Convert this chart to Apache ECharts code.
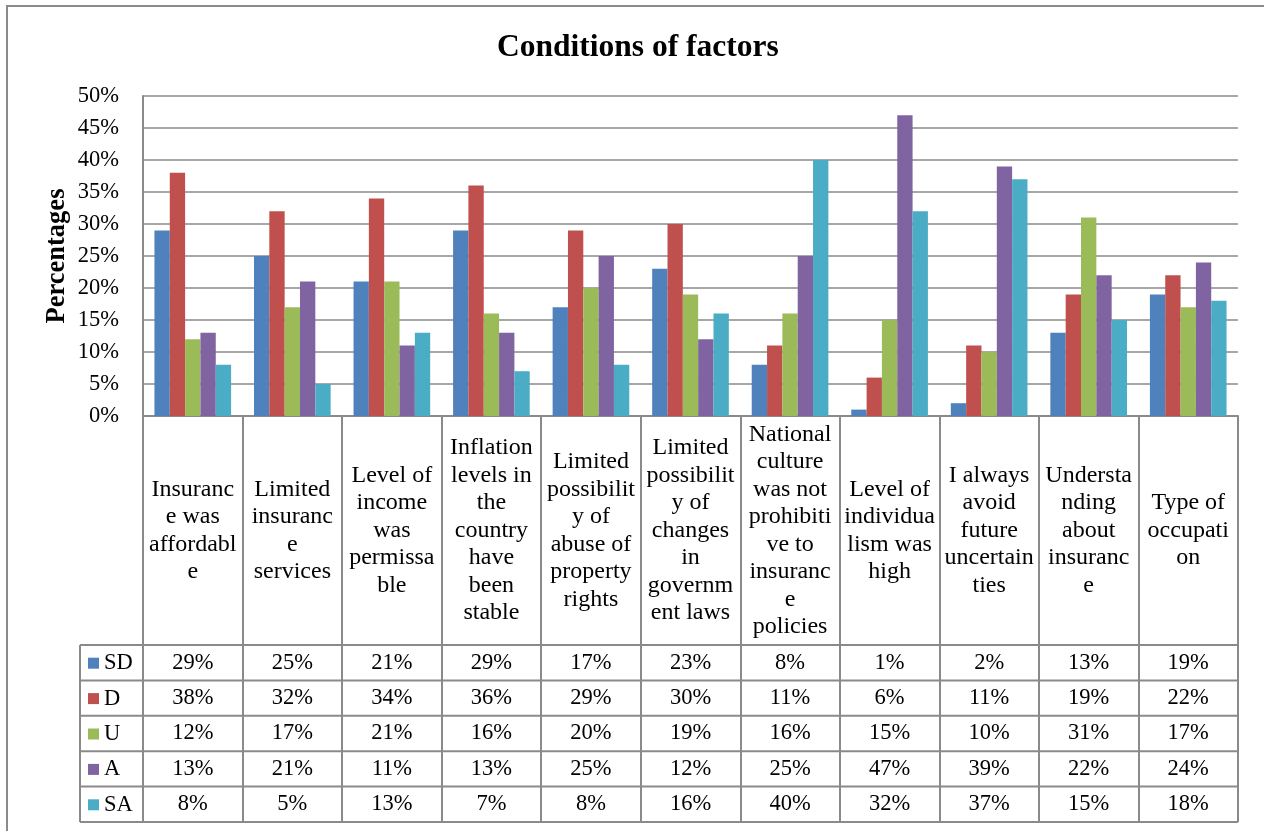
<!DOCTYPE html>
<html>
<head>
<meta charset="utf-8">
<title>Conditions of factors</title>
<script src="https://cdn.jsdelivr.net/npm/echarts@6/dist/echarts.min.js"></script>
<style>
  html, body { margin: 0; padding: 0; background: #fff; }
  #chart { width: 1264px; height: 831px; }
</style>
</head>
<body>
<div id="chart"></div>
<script>
// Factor statements (categories)
const categories = [
  'Insurance was affordable',
  'Limited insurance services',
  'Level of income was permissable',
  'Inflation levels in the country have been stable',
  'Limited possibility of abuse of property rights',
  'Limited possibility of changes in government laws',
  'National culture was not prohibitive to insurance policies',
  'Level of individualism was high',
  'I always avoid future uncertainties',
  'Understanding about insurance',
  'Type of occupation'
];

// Wrapped category labels as they appear under the bars
const categoryLabels = [
  'Insuranc\ne was\naffordabl\ne',
  'Limited\ninsuranc\ne\nservices',
  'Level of\nincome\nwas\npermissa\nble',
  'Inflation\nlevels in\nthe\ncountry\nhave\nbeen\nstable',
  'Limited\npossibilit\ny of\nabuse of\nproperty\nrights',
  'Limited\npossibilit\ny of\nchanges\nin\ngovernm\nent laws',
  'National\nculture\nwas not\nprohibiti\nve to\ninsuranc\ne\npolicies',
  'Level of\nindividua\nlism was\nhigh',
  'I always\navoid\nfuture\nuncertain\nties',
  'Understa\nnding\nabout\ninsuranc\ne',
  'Type of\noccupati\non'
];

// Responses in percent
const seriesNames = ['SD', 'D', 'U', 'A', 'SA'];
const sdValues = [29, 25, 21, 29, 17, 23, 8, 1, 2, 13, 19];
const dValues  = [38, 32, 34, 36, 29, 30, 11, 6, 11, 19, 22];
const uValues  = [12, 17, 21, 16, 20, 19, 16, 15, 10, 31, 17];
const aValues  = [13, 21, 11, 13, 25, 12, 25, 47, 39, 22, 24];
const saValues = [8, 5, 13, 7, 8, 16, 40, 32, 37, 15, 18];
const seriesValues = [sdValues, dValues, uValues, aValues, saValues];
const seriesColors = ['#4F81BD', '#C0504D', '#9BBB59', '#8064A2', '#4BACC6'];

// Y axis ticks and title
const yMin = 0, yMax = 50, yStep = 5;
const yTitle = 'Percentages';

// Layout (pixels)
const W = 1264, H = 831;
const plotLeft = 143, plotRight = 1238, plotTop = 96, plotBottom = 416;
const labelAreaBottom = 645;
const rowHeight = 35.4;
const tableLeft = 80;
const lineColor = '#8a8a8a';
const font = 'Liberation Serif, Times New Roman, serif';
const fontSize = 22.5;

const tableBottom = labelAreaBottom + rowHeight * seriesNames.length;

// Main category axis: wrapped labels and boundary ticks that run down through the table
const xAxes = [{
  type: 'category',
  data: categories,
  gridIndex: 0,
  position: 'bottom',
  axisLine: { show: true, lineStyle: { color: lineColor, width: 2 } },
  axisTick: { show: true, interval: 0, length: tableBottom - plotBottom, lineStyle: { color: lineColor, width: 2 } },
  axisLabel: {
    interval: 0,
    margin: (labelAreaBottom - plotBottom) / 2,
    verticalAlign: 'middle',
    align: 'center',
    fontFamily: font,
    fontSize: 24,
    lineHeight: 27.5,
    color: '#000',
    formatter: (v, i) => categoryLabels[i]
  }
}];

// One extra axis per table row, each printing its series values
seriesValues.forEach((vals, r) => {
  xAxes.push({
    type: 'category',
    data: categories,
    gridIndex: 0,
    position: 'bottom',
    offset: labelAreaBottom + rowHeight * (r + 0.5) - plotBottom,
    axisLine: { show: false },
    axisTick: { show: false },
    axisLabel: {
      interval: 0,
      margin: 0,
      verticalAlign: 'middle',
      align: 'center',
      fontFamily: font,
      fontSize: fontSize,
      color: '#000',
      formatter: (v, i) => vals[i] + '%'
    }
  });
});

// One legend per table row, sitting in the row's key cell
const legends = seriesNames.map((name, r) => ({
  orient: 'horizontal',
  left: 83,
  top: labelAreaBottom + rowHeight * (r + 0.5) - 11 - 5,
  padding: 5,
  itemWidth: 11,
  itemHeight: 11,
  itemGap: 5,
  icon: 'rect',
  selectedMode: false,
  data: [name],
  textStyle: { fontFamily: font, fontSize: fontSize, lineHeight: 22, color: '#000' }
}));

// Table rules: horizontal row lines and the left edge of the legend column
const graphics = [];
for (let r = 0; r <= seriesNames.length; r++) {
  const y = labelAreaBottom + rowHeight * r;
  graphics.push({
    type: 'line', silent: true,
    shape: { x1: tableLeft, y1: y, x2: plotRight, y2: y },
    style: { stroke: lineColor, lineWidth: 2 }
  });
}
graphics.push({
  type: 'line', silent: true,
  shape: { x1: tableLeft, y1: labelAreaBottom, x2: tableLeft, y2: tableBottom },
  style: { stroke: lineColor, lineWidth: 2 }
});
// Chart frame
graphics.push({
  type: 'polyline', silent: true,
  shape: { points: [[7, H + 5], [7, 6], [W + 5, 6]] },
  style: { stroke: '#8a8a8a', lineWidth: 2, fill: null }
});
// Vertical value-axis title, centred on the plot height
graphics.push({
  type: 'text', silent: true,
  x: 57, y: (plotTop + plotBottom) / 2,
  rotation: Math.PI / 2,
  style: {
    text: yTitle, fontFamily: font, fontSize: 26.5, fontWeight: 'bold', fill: '#000',
    align: 'center', verticalAlign: 'middle'
  }
});

const chart = echarts.init(document.getElementById('chart'), null, { renderer: 'canvas' });

chart.setOption({
  backgroundColor: '#fff',
  animation: false,
  title: {
    text: 'Conditions of factors',
    left: 492,
    top: 27,
    textStyle: { fontFamily: font, fontSize: 31.5, fontWeight: 'bold', color: '#000' }
  },
  legend: legends,
  grid: {
    left: plotLeft,
    right: W - plotRight,
    top: plotTop,
    bottom: H - plotBottom,
    containLabel: false
  },
  xAxis: xAxes,
  yAxis: {
    type: 'value',
    min: yMin,
    max: yMax,
    interval: yStep,
    axisLine: { show: true, lineStyle: { color: lineColor, width: 2 } },
    axisTick: { show: false },
    axisLabel: {
      margin: 24,
      fontFamily: font,
      fontSize: fontSize,
      color: '#000',
      formatter: '{value}%'
    },
    splitLine: { show: true, lineStyle: { color: lineColor, width: 1.5 } }
  },
  series: seriesNames.map((name, i) => ({
    name: name,
    type: 'bar',
    xAxisIndex: 0,
    data: seriesValues[i],
    barGap: '0%',
    barCategoryGap: '23%',
    itemStyle: { color: seriesColors[i] }
  })),
  graphic: graphics
});
</script>
</body>
</html>
